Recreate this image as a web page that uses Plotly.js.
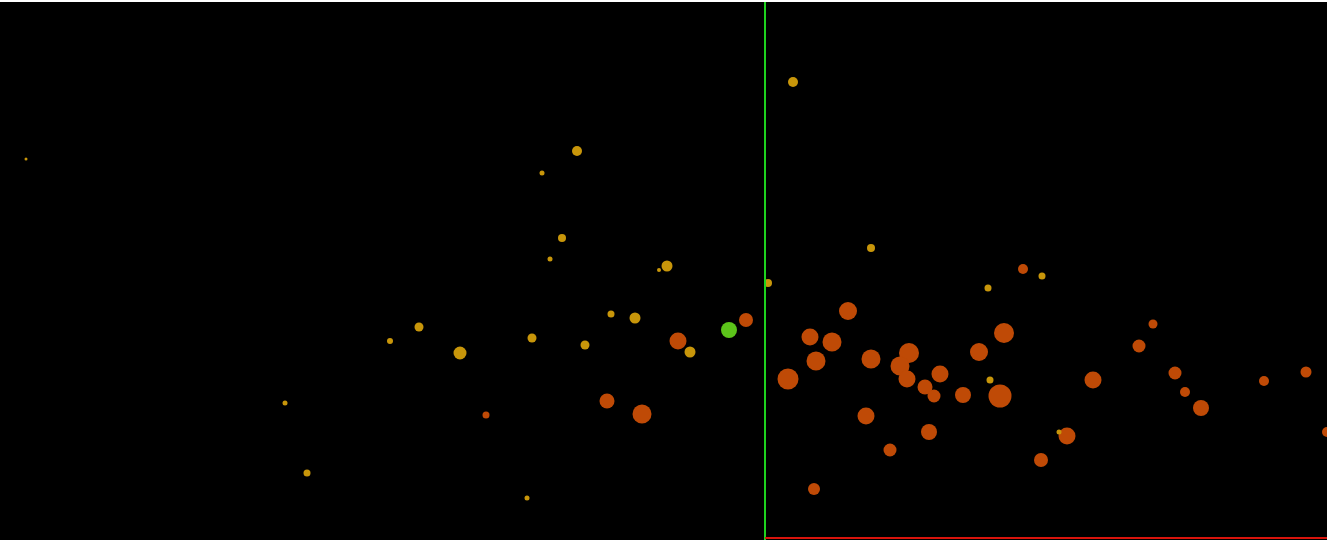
<!DOCTYPE html>
<html>
<head>
<meta charset="utf-8">
<script src="https://cdn.plot.ly/plotly-3.0.1.min.js"></script>
<style>html,body{margin:0;padding:0;background:#fff;overflow:hidden}#chart{width:1327px;height:540px}</style>
</head>
<body>
<div id="chart"></div>
<script>
// Gold group
var goldX = [-739, -188, -223, -203, -215, -98, -106, -154, -130, -346, -375, -233, -180, -305, -75, -480, -458, -238, 28, 106, 3, 223, 277, 225, 294];
var goldY = [379, 387, 365, 300, 279, 272, 268, 224, 220, 211, 197, 200, 193, 185, 186, 135, 65, 40, 456, 290, 255, 250, 262, 158, 106];
var goldS = [3, 10, 5, 8, 5, 11, 4, 7, 11, 9, 6, 9, 9, 13, 11, 5, 7, 5, 10, 8, 8, 7, 7, 7, 5];

// Orange group
var orangeX = [-87, -19, -158, -123, -279,
  83, 45, 67, 51, 23, 106, 144, 135, 142, 175, 160, 169, 198, 214, 239, 235, 101, 164, 125, 49, 276,
  258, 388, 374, 328, 410, 420, 436, 302, 499, 541, 562];
var orangeY = [197, 218, 137, 124, 123,
  227, 201, 196, 177, 159, 179, 185, 172, 159, 164, 151, 142, 143, 186, 205, 142, 122, 106, 88, 49, 78,
  269, 214, 192, 158, 165, 146, 130, 102, 157, 166, 106];
var orangeS = [17, 14, 15, 19, 7,
  18, 17, 19, 19, 21, 19, 20, 19, 17, 17, 15, 13, 16, 18, 20, 23, 17, 16, 13, 12, 14,
  10, 9, 13, 17, 13, 10, 16, 17, 10, 11, 10];

// Green point
var greenX = [-36];
var greenY = [208];
var greenS = [16];

var traces = [
  {x: orangeX, y: orangeY, mode: 'markers', type: 'scatter', hoverinfo: 'none',
   marker: {size: orangeS, sizemode: 'diameter', color: '#bf4a06', opacity: 1, line: {width: 0}}},
  {x: goldX, y: goldY, mode: 'markers', type: 'scatter', hoverinfo: 'none',
   marker: {size: goldS, sizemode: 'diameter', color: '#c8960a', opacity: 1, line: {width: 0}}},
  {x: greenX, y: greenY, mode: 'markers', type: 'scatter', hoverinfo: 'none',
   marker: {size: greenS, sizemode: 'diameter', color: '#5cc41a', opacity: 1, line: {width: 0}}}
];

var layout = {
  width: 1327, height: 540,
  margin: {l: 0, r: 0, t: 2, b: 0, pad: 0},
  paper_bgcolor: '#ffffff',
  plot_bgcolor: '#000000',
  showlegend: false,
  xaxis: {range: [-765, 562], visible: false, showgrid: false, zeroline: false, fixedrange: true},
  yaxis: {range: [-2, 536], visible: false, showgrid: false, zeroline: false, fixedrange: true},
  shapes: [
    {type: 'line', xref: 'x', yref: 'paper', x0: 0, x1: 0, y0: 0, y1: 1, line: {color: '#1ed21e', width: 2}, layer: 'above'},
    {type: 'line', xref: 'x', yref: 'y', x0: 0, x1: 562, y0: 0, y1: 0, line: {color: '#d8140c', width: 2}, layer: 'above'}
  ]
};

Plotly.newPlot('chart', traces, layout, {displayModeBar: false, staticPlot: true});
</script>
</body>
</html>
